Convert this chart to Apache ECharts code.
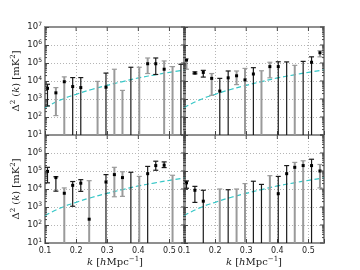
<!DOCTYPE html>
<html><head><meta charset="utf-8">
<script src="https://cdn.jsdelivr.net/npm/echarts@6/dist/echarts.min.js"></script>
<style>html,body{margin:0;padding:0;background:#fff}#c{width:360px;height:270px}</style>
</head><body><div id="c"></div>
<script>
// ---- data ----
// Panel A: top-left
const kA    = [0.108,0.135,0.162,0.189,0.215,0.269,0.296,0.323,0.349,0.376,0.403,0.430,0.456,0.483,0.510,0.537];
const midA  = [3.9e3,2.2e3,9.1e3,4.9e3,4.3e3,null,4.5e3,null,null,null,null,9.1e4,9.1e4,4.5e4,null,null];
const hiA   = [6.6e3,4.3e3,1.7e4,1.55e4,1.55e4,9.5e3,2.75e4,4.5e4,3.0e3,5.8e4,5.8e4,1.9e5,1.9e5,1.3e5,6.3e4,8.5e4];
const loA   = [4.1e2,1.2e2,null,null,null,null,null,null,null,null,null,2.6e4,2.3e4,null,null,null];
const grayA = [0,1,1,0,0,1,0,1,1,0,1,1,0,1,1,0];
// Panel B: top-right
const kB    = [0.108,0.135,0.162,0.189,0.215,0.242,0.269,0.296,0.323,0.349,0.376,0.403,0.430,0.456,0.483,0.510,0.537];
const midB  = [1.45e5,2.75e4,3.0e4,1.4e4,2.75e3,1.5e4,1.95e4,1.15e4,2.45e4,null,6.3e4,6.3e4,null,null,null,1.1e5,3.7e5];
const hiB   = [1.7e5,3.2e4,3.9e4,2.6e4,1.4e4,3.6e4,3.6e4,5.0e4,5.5e4,3.7e4,1.1e5,1.17e5,1.15e5,7.4e4,1.23e5,2.2e5,4.8e5];
const loB   = [4.5e4,2.5e4,1.65e4,1.6e3,null,null,6.3e3,null,null,null,1.5e4,null,null,null,null,null,2.2e5];
const grayB = [1,0,0,1,0,0,1,1,0,1,1,0,0,1,0,0,1];
// Panel C: bottom-left
const kC    = [0.108,0.135,0.162,0.189,0.215,0.242,0.296,0.323,0.349,0.376,0.403,0.430,0.456,0.483,0.510];
const midC  = [9.5e4,4.3e4,5.8e3,1.6e4,2.1e4,2.1e2,2.45e4,6.3e4,4.3e4,null,null,7.1e4,2.0e5,2.1e5,null];
const hiC   = [1.6e5,4.8e4,1.15e4,2.6e4,3.3e4,2.9e4,6.3e4,1.6e5,9.1e4,8.5e4,5.0e4,1.8e5,3.5e5,3.2e5,5.8e4];
const loC   = [2.2e4,7.6e3,null,1.1e3,7.4e3,null,null,3.7e3,3.9e3,null,null,null,1.1e5,1.55e5,null];
const grayC = [0,0,1,0,0,1,0,1,1,0,1,0,0,0,1];
// Panel D: bottom-right
const kD    = [0.108,0.135,0.162,0.215,0.242,0.269,0.296,0.323,0.349,0.376,0.403,0.430,0.456,0.483,0.510,0.537];
const midD  = [2.2e4,8.5e3,2.1e3,null,null,null,null,null,null,null,5.5e3,7.1e4,1.6e5,2.0e5,2.0e5,1.0e5];
const hiD   = [2.8e4,1.4e4,8.5e3,1.0e4,9.1e3,1.0e4,2.0e4,2.7e4,1.8e4,5.5e4,5.0e4,2.0e5,3.0e5,3.7e5,4.5e5,2.3e5];
const loD   = [1.1e4,1.8e3,null,null,null,null,null,null,null,null,null,null,null,null,null,1.15e4];
const grayD = [0,0,0,1,0,1,1,0,0,1,0,0,1,1,0,1];
// model curve (dashed cyan), same in all panels
const modelK = [0.10,0.15,0.20,0.25,0.30,0.35,0.40,0.45,0.50,0.55];
const modelV = [330,890,1820,3390,5750,9330,14800,21400,30200,41700];
// axis ticks
const xTicks = [0.2,0.3,0.4,0.5];
const yMajor = [10,1e2,1e3,1e4,1e5,1e6,1e7];
const yMinor = [];
[10,1e2,1e3,1e4,1e5,1e6].forEach(d => [2,3,4,5,6,7,8,9].forEach(m => yMinor.push(d*m)));

const panels = [
  {k:kA, mid:midA, hi:hiA, lo:loA, gray:grayA},
  {k:kB, mid:midB, hi:hiB, lo:loB, gray:grayB},
  {k:kC, mid:midC, hi:hiC, lo:loC, gray:grayC},
  {k:kD, mid:midD, hi:hiD, lo:loD, gray:grayD}
];

const XMIN = 0.1, XMAX = 0.55, YMIN = 10, YMAX = 1e7;
const SANS = 'DejaVu Sans', SERIF = 'DejaVu Serif';
const grids = [
  {left:45, top:27, width:140, height:108},
  {left:184, top:27, width:140, height:108},
  {left:45, top:135, width:140, height:108},
  {left:184, top:135, width:140, height:108}
].map(g => Object.assign(g, {show:true, borderColor:'#8f8f8f', borderWidth:2, backgroundColor:'transparent'}));

const gridLine = {show:true, showMinLine:false, showMaxLine:false, lineStyle:{color:'#b5b5b5', width:1, type:[1,2]}};

const xAxes = [0,1,2,3].map(i => {
  const bottom = i >= 2;
  const ax = {
    gridIndex:i, type:'value', min:XMIN, max:XMAX, interval:0.1,
    axisLine:{show:false},
    axisTick:{show:true, inside:true, length:4, lineStyle:{color:'#444', width:1}},
    axisLabel:{show:bottom, fontSize:8, color:'#222', fontFamily:SANS, margin:4,
      formatter: v => (Math.abs(v*10 - Math.round(v*10)) < 1e-6 && v < 0.52) ? v.toFixed(1) : ''},
    splitLine:gridLine
  };
  if (bottom) {
    ax.name = '{i|k} {n|[}{i|h}{n|Mpc}{s|−1}{n|]}';
    ax.nameLocation = 'middle';
    ax.nameGap = 12;
    ax.nameTextStyle = {color:'#222', fontFamily:SERIF, fontSize:10, verticalAlign:'top',
      rich:{n:{fontFamily:SERIF, fontSize:10, color:'#222'}, i:{fontFamily:SERIF, fontStyle:'italic', fontSize:10, color:'#222'},
            s:{fontFamily:SERIF, fontSize:7, color:'#222', padding:[0,0,6,0]}}};
  }
  return ax;
});

const yAxes = [0,1,2,3].map(i => {
  const left = (i % 2) === 0;
  const ax = {
    gridIndex:i, type:'log', logBase:10, min:YMIN, max:YMAX, splitNumber:6,
    axisLine:{show:false},
    axisTick:{show:true, inside:true, length:4, lineStyle:{color:'#444', width:1}},
    axisLabel:{show:left, margin:3, color:'#222', showMaxLabel: i !== 2,
      formatter: v => '{b|10}{e|' + Math.round(Math.log10(v)) + '}',
      rich:{b:{fontSize:8.5, fontFamily:SANS, color:'#222'}, e:{fontSize:6, fontFamily:SANS, color:'#222', padding:[0,0,6,0]}}},
    splitLine:gridLine
  };
  if (left) {
    ax.name = '{n|Δ}{s|2}{n| (}{i|k}{n|) [mK}{s|2}{n|]}';
    ax.nameLocation = 'middle';
    ax.nameRotate = 90;
    ax.nameGap = 22;
    ax.nameTextStyle = {color:'#222', fontFamily:SERIF, fontSize:10,
      rich:{n:{fontFamily:SERIF, fontSize:10, color:'#222'}, i:{fontFamily:SERIF, fontStyle:'italic', fontSize:10, color:'#222'},
            s:{fontFamily:SERIF, fontSize:7, color:'#222', padding:[0,0,6,0]}}};
  }
  return ax;
});

const series = [];
panels.forEach((P, gi) => {
  // model curve
  series.push({
    type:'line', xAxisIndex:gi, yAxisIndex:gi, smooth:true, showSymbol:false, silent:true, z:3,
    data: modelK.map((k, j) => [k, modelV[j]]),
    lineStyle:{color:'#36c7c7', width:1.2, type:[5,3]}
  });
  // error bars
  series.push({
    type:'custom', xAxisIndex:gi, yAxisIndex:gi, clip:true, z:4,
    data: P.k.map((k, j) => [k, P.hi[j]]),
    encode:{x:0, y:1},
    renderItem: (params, api) => {
      const j = params.dataIndex;
      const cs = params.coordSys;
      const g = P.gray[j] === 1;
      const col = g ? '#9a9a9a' : '#1a1a1a';
      const lw = g ? 2 : 1.2;
      const top = api.coord([P.k[j], P.hi[j]]);
      const x = top[0];
      const yLo = P.lo[j] == null ? cs.y + cs.height + 2 : api.coord([P.k[j], P.lo[j]])[1];
      const st = {stroke:col, lineWidth:lw};
      const ch = [
        {type:'line', shape:{x1:x, y1:top[1], x2:x, y2:yLo}, style:st},
        {type:'line', shape:{x1:x-2.5, y1:top[1], x2:x+2.5, y2:top[1]}, style:{stroke:col, lineWidth:1.2}}
      ];
      if (P.lo[j] != null) ch.push({type:'line', shape:{x1:x-2.5, y1:yLo, x2:x+2.5, y2:yLo}, style:{stroke:col, lineWidth:1.2}});
      if (P.mid[j] != null) {
        const m = api.coord([P.k[j], P.mid[j]]);
        ch.push({type:'rect', shape:{x:m[0]-1.5, y:m[1]-1.5, width:3, height:3}, style:{fill:'#000'}});
      }
      return {type:'group', children:ch};
    }
  });
  // extra ticks: right/top major, and log minor ticks on both sides
  series.push({
    type:'custom', xAxisIndex:gi, yAxisIndex:gi, clip:false, silent:true, z:5,
    data:[[XMIN, YMIN]], encode:{x:0, y:1},
    renderItem: (params, api) => {
      const cs = params.coordSys;
      const x0 = cs.x, x1 = cs.x + cs.width, y0 = cs.y;
      const st = {stroke:'#444', lineWidth:1};
      const ch = [];
      yMajor.forEach(v => { const y = api.coord([XMIN, v])[1]; ch.push({type:'line', shape:{x1:x1-4, y1:y, x2:x1, y2:y}, style:st}); });
      yMinor.forEach(v => { const y = api.coord([XMIN, v])[1];
        ch.push({type:'line', shape:{x1:x0, y1:y, x2:x0+2, y2:y}, style:st});
        ch.push({type:'line', shape:{x1:x1-2, y1:y, x2:x1, y2:y}, style:st}); });
      xTicks.forEach(v => { const x = api.coord([v, YMIN])[0]; ch.push({type:'line', shape:{x1:x, y1:y0, x2:x, y2:y0+4}, style:st}); });
      return {type:'group', children:ch};
    }
  });
});

const chart = echarts.init(document.getElementById('c'), null, {renderer:'canvas', width:360, height:270});
chart.setOption({
  animation:false,
  backgroundColor:'#fff',
  grid:grids, xAxis:xAxes, yAxis:yAxes, series:series
});
</script></body></html>
